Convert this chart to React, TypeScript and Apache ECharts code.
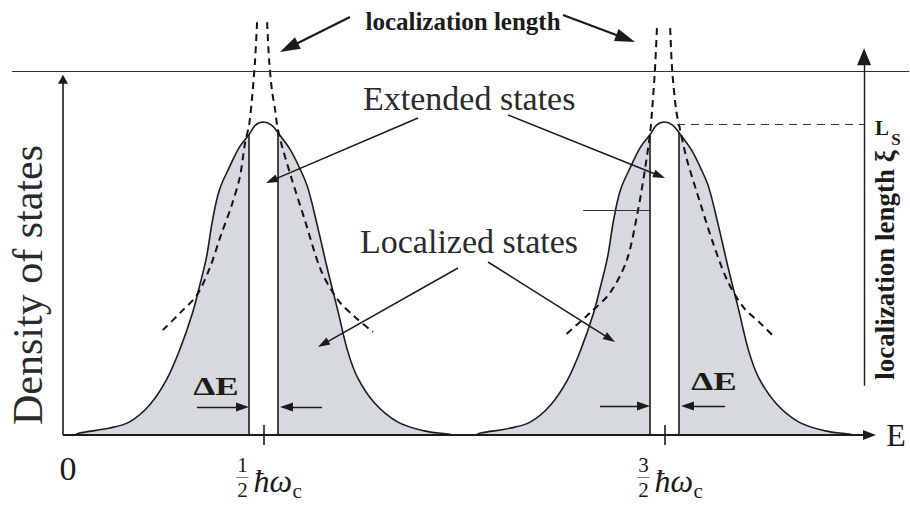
import { useEffect, useRef } from "react";
import * as echarts from "echarts";

// Energy E in units of ħω_c, density of states normalised to the Landau-level peak.
const levelCentres = [0.5, 1.5];
const levelNumerators = ["1", "3"];
const bandHalfWidth = 0.036; // half of ΔE, the band of extended states

// Broadened Landau level: offset from the level centre and density of states
const dosOffset = [-0.47, -0.459, -0.384, -0.334, -0.284, -0.242, -0.209, -0.177, -0.16, -0.142, -0.127, -0.11, -0.085, -0.06, -0.036, -0.02, 0, 0.02, 0.036, 0.067, 0.09, 0.11, 0.135, 0.16, 0.185, 0.209, 0.234, 0.277, 0.334, 0.401, 0.459, 0.47];
const dosValue = [0, 0.006, 0.022, 0.042, 0.096, 0.176, 0.272, 0.39, 0.473, 0.569, 0.687, 0.783, 0.856, 0.92, 0.96, 0.99, 1.0, 0.99, 0.966, 0.911, 0.853, 0.792, 0.665, 0.527, 0.399, 0.272, 0.185, 0.102, 0.042, 0.013, 0.003, 0];

// Localization length ξ(E), diverging at each level centre
const xi1LeftE = [0.484, 0.479, 0.471, 0.464, 0.454, 0.441, 0.421, 0.394, 0.367, 0.334, 0.292, 0.249];
const xi1Left = [1.319, 1.198, 1.07, 0.99, 0.933, 0.824, 0.735, 0.639, 0.537, 0.447, 0.39, 0.335];
const xi1RightE = [0.509, 0.514, 0.521, 0.529, 0.534, 0.544, 0.569, 0.603, 0.643, 0.686, 0.728, 0.773];
const xi1Right = [1.319, 1.198, 1.102, 1.038, 0.99, 0.933, 0.824, 0.687, 0.527, 0.431, 0.377, 0.329];
const xi2LeftE = [1.481, 1.476, 1.469, 1.464, 1.451, 1.434, 1.406, 1.364, 1.314, 1.252];
const xi2Left = [1.3, 1.166, 1.038, 0.965, 0.847, 0.719, 0.559, 0.454, 0.39, 0.319];
const xi2RightE = [1.514, 1.519, 1.529, 1.539, 1.556, 1.589, 1.621, 1.656, 1.696, 1.738, 1.776];
const xi2Right = [1.3, 1.166, 1.038, 0.974, 0.879, 0.741, 0.613, 0.495, 0.409, 0.358, 0.31];

// Sample size L_S where ξ saturates
const sampleSizeLevel = 0.994;

const FONT = '"Liberation Serif", "Times New Roman", serif';
const INK = "#1b1b1b";
const FILL = "#d7dadc";

type Pt = [number, number];

const zip = (xs: number[], ys: number[]) => xs.map((x, i) => [x, ys[i]]);

function levelPoints(centre: number, keep: (o: number) => boolean) {
  return dosOffset
    .map((o, i) => [centre + o, dosValue[i], o] as number[])
    .filter((p) => keep(p[2]))
    .map((p) => [p[0], p[1]]);
}

function densityAt(offset: number) {
  const i = dosOffset.indexOf(offset);
  return dosValue[i];
}

// Arrow from a point to a tip, in pixels; the triangle head is centred on the end point
function arrow(from: Pt, tip: Pt, head: number) {
  const dx = tip[0] - from[0];
  const dy = tip[1] - from[1];
  const len = Math.hypot(dx, dy);
  return [
    { x: from[0], y: from[1] },
    { x: tip[0] - (dx / len) * head / 2, y: tip[1] - (dy / len) * head / 2 },
  ];
}

function markCarrier(items: any[], symbolSize: number[] | number, width: number, withHead: boolean, type: any = "solid", color = INK) {
  return {
    type: "line",
    data: [],
    clip: false,
    silent: true,
    markLine: {
      silent: true,
      animation: false,
      symbol: withHead ? ["none", "triangle"] : ["none", "none"],
      symbolSize,
      label: { show: false },
      emphasis: { disabled: true },
      lineStyle: { color, width, type, opacity: 1 },
      itemStyle: { color },
      data: items,
    },
  };
}

function text(t: string, x: number, y: number, size: number, opts: any = {}) {
  return {
    type: "text",
    silent: true,
    z: 100,
    x,
    y,
    rotation: opts.rotation || 0,
    scaleX: opts.scaleX || 1,
    scaleY: opts.scaleY || 1,
    style: {
      text: t,
      fontSize: size,
      fontFamily: FONT,
      fontWeight: opts.weight || "normal",
      fontStyle: opts.italic ? "italic" : "normal",
      fill: opts.color || INK,
      align: opts.align || "center",
      verticalAlign: "middle",
      textAlign: opts.align || "center",
      textVerticalAlign: "middle",
    },
  };
}

function buildOption() {
  const series: any[] = [];

  levelCentres.forEach((c) => {
    const areaBase = {
      type: "line",
      symbol: "none",
      smooth: 0.35,
      silent: true,
      lineStyle: { width: 0 },
      areaStyle: { color: FILL, opacity: 1 },
    };
    series.push({ ...areaBase, data: levelPoints(c, (o) => o <= -bandHalfWidth) });
    series.push({ ...areaBase, data: levelPoints(c, (o) => o >= bandHalfWidth) });
  });

  // Edges of the extended-state band and the level ticks
  const edges: any[] = [];
  levelCentres.forEach((c) => {
    edges.push([{ coord: [c - bandHalfWidth, 0] }, { coord: [c - bandHalfWidth, densityAt(-bandHalfWidth)] }]);
    edges.push([{ coord: [c + bandHalfWidth, 0] }, { coord: [c + bandHalfWidth, densityAt(bandHalfWidth)] }]);
    edges.push([{ coord: [c, -0.032] }, { coord: [c, 0.032] }]);
  });
  series.push(markCarrier(edges, 0, 1.6, false));

  levelCentres.forEach((c) => {
    series.push({
      type: "line",
      symbol: "none",
      smooth: 0.35,
      silent: true,
      lineStyle: { color: INK, width: 1.6 },
      data: levelPoints(c, () => true),
    });
  });

  const dashed = { color: "#111", width: 2, type: [7, 5] };
  [
    zip(xi1LeftE, xi1Left),
    zip(xi1RightE, xi1Right),
    zip(xi2LeftE, xi2Left),
    zip(xi2RightE, xi2Right),
  ].forEach((d) => {
    series.push({ type: "line", symbol: "none", smooth: 0.3, silent: true, lineStyle: dashed, data: d });
  });

  // L_S level on the localization-length axis
  series.push(
    markCarrier(
      [[{ coord: [1.531, sampleSizeLevel] }, { coord: [1.9975, sampleSizeLevel] }]],
      0,
      1.2,
      false,
      [8, 6],
      "#333"
    )
  );

  // Frame lines
  series.push(
    markCarrier(
      [
        [{ coord: [-0.127, 1.163] }, { coord: [2.11, 1.163] }],
        [{ x: 583, y: 210 }, { x: 650, y: 210 }],
      ],
      0,
      1.1,
      false,
      "solid",
      "#333"
    )
  );

  // Energy and density axes
  series.push(markCarrier([[{ coord: [0, 0] }, { coord: [2.011, 0] }]], [10, 13], 2, true));
  series.push(markCarrier([[{ coord: [0, 0] }, { coord: [0, 1.137] }]], [10, 9], 1.6, true));
  // Localization-length axis on the right
  series.push(markCarrier([[{ coord: [1.9975, 0.157] }, { coord: [1.9975, 1.209] }]], [14, 17], 1.4, true));

  // Callout arrows
  series.push(markCarrier([arrow([350, 17], [280, 52], 20), arrow([563, 15], [635, 42], 20)], [13, 20], 2.2, true));
  series.push(
    markCarrier(
      [
        arrow([418, 118], [266, 183], 12),
        arrow([508, 115], [665, 178], 12),
        arrow([458, 268], [318, 347], 12),
        arrow([488, 262], [615, 342], 12),
      ],
      [8, 12],
      1.5,
      true
    )
  );
  series.push(
    markCarrier(
      [
        arrow([197, 407], [249, 407], 13),
        arrow([322, 407], [280, 407], 13),
        arrow([600, 406], [650, 406], 13),
        arrow([725, 406], [681, 406], 13),
      ],
      [9, 13],
      1.4,
      true
    )
  );

  return {
    animation: false,
    backgroundColor: "#fff",
    grid: { left: 0, right: 0, top: 0, bottom: 0, containLabel: false },
    xAxis: { type: "value", min: -0.157, max: 2.112, show: false },
    yAxis: { type: "value", min: -0.227, max: 1.39, show: false },
    tooltip: { show: false },
    series,
  };
}

function staticTexts() {
  return [
    text("localization length", 463, 21, 25, { weight: "bold" }),
    text("Extended states", 363, 98, 34, { align: "left", color: "#2a2a2a" }),
    text("Localized states", 360, 241, 34, { align: "left", color: "#2a2a2a" }),
    text("Density of states", 28, 285, 42, { rotation: Math.PI / 2, color: "#2a2a2a" }),
    text("0", 68, 468, 34),
    text("E", 896, 435, 32),
    text("ΔE", 216, 386, 26, { weight: "bold", scaleX: 1.35 }),
    text("ΔE", 714, 381, 26, { weight: "bold", scaleX: 1.35 }),
    text("L", 882, 128, 21, { weight: "bold" }),
    text("S", 896, 139, 17, { weight: "bold" }),
    text("localization length ξ", 885, 265, 27, { weight: "bold", rotation: Math.PI / 2 }),
  ];
}

export default function App() {
  const ref = useRef<HTMLDivElement>(null);

  useEffect(() => {
    const prevMargin = document.body.style.margin;
    document.body.style.margin = "0";
    const chart = echarts.init(ref.current!, null, { renderer: "svg" });
    chart.setOption(buildOption());

    // Level labels ½ħω_c and 3⁄2ħω_c placed under their ticks
    const levelLabels: any[] = [];
    levelCentres.forEach((c, i) => {
      const [px] = chart.convertToPixel({ gridIndex: 0 }, [c, 0]) as number[];
      levelLabels.push(text(levelNumerators[i], px - 21, 465, 21));
      levelLabels.push({
        type: "line",
        silent: true,
        z: 100,
        shape: { x1: px - 27, y1: 477.5, x2: px - 15, y2: 477.5 },
        style: { stroke: "#555", lineWidth: 0.8 },
      });
      levelLabels.push(text("2", px - 21, 490, 21));
      levelLabels.push(text("ħω", px - 10, 481, 32, { italic: true, align: "left" }));
      levelLabels.push(text("c", px + 29, 491, 21, { align: "left" }));
    });

    chart.setOption({ graphic: [...staticTexts(), ...levelLabels] });
    return () => {
      chart.dispose();
      document.body.style.margin = prevMargin;
    };
  }, []);

  return <div ref={ref} style={{ width: 910, height: 506, background: "#fff" }} />;
}
